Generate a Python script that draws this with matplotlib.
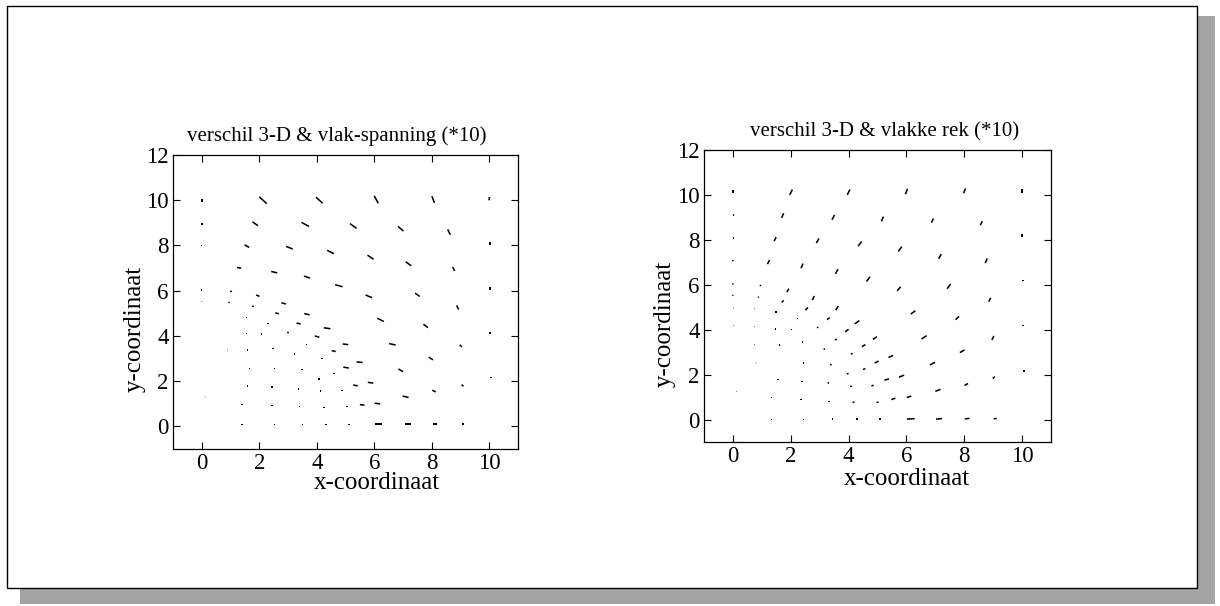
import matplotlib
matplotlib.use("Agg")
import matplotlib.pyplot as plt
from matplotlib.patches import Rectangle

# difference vectors (*10), left: 3-D vs plane stress
xs_l = [0.00, 2.13, 4.09, 6.07, 8.05, 10.00, 0.00, 1.86, 3.60, 5.27, 6.92, 8.60,
        0.00, 1.57, 3.05, 4.48, 5.87, 7.19, 8.76, 10.02, 1.30, 2.52, 3.66, 4.77,
        5.81, 7.50, 8.90, 10.02, 0.00, 0.00, 1.02, 0.95, 1.95, 1.78, 2.85, 2.62,
        3.66, 3.37, 4.36, 6.22, 7.79, 9.01, 10.02, 1.55, 2.30, 1.55, 2.09, 3.00,
        4.01, 3.64, 5.00, 4.59, 6.63, 7.97, 0.89, 1.60, 2.48, 3.22, 4.19, 1.66,
        2.53, 3.49, 4.59, 5.02, 5.49, 6.92, 4.07, 5.35, 5.87, 9.07, 10.06, 1.58,
        2.45, 3.37, 4.13, 4.88, 7.09, 8.08, 0.12, 1.40, 2.45, 3.40, 4.24, 5.06,
        5.58, 6.11, 1.40, 2.53, 3.51, 4.33, 5.12, 6.16, 7.18, 8.12, 9.09]
ys_l = [10.00, 10.00, 10.00, 10.03, 10.03, 10.07, 8.96, 8.96, 8.93, 8.86, 8.74, 8.59,
        8.00, 7.97, 7.90, 7.71, 7.48, 7.19, 6.96, 8.08, 7.01, 6.82, 6.60, 6.22,
        5.75, 5.82, 5.26, 6.10, 6.03, 5.53, 5.97, 5.48, 5.78, 5.31, 5.44, 5.00,
        4.96, 4.55, 4.34, 4.71, 4.44, 3.56, 4.12, 4.82, 4.55, 4.11, 4.08, 4.15,
        3.97, 3.63, 3.63, 3.33, 3.63, 3.00, 3.38, 3.38, 3.45, 3.19, 3.00, 2.56,
        2.56, 2.52, 2.33, 2.60, 2.84, 2.48, 2.10, 1.81, 1.93, 1.81, 2.15, 1.78,
        1.75, 1.66, 1.56, 1.59, 1.31, 1.56, 1.31, 0.96, 0.92, 0.87, 0.83, 0.87,
        0.95, 1.01, 0.08, 0.08, 0.08, 0.08, 0.08, 0.10, 0.10, 0.10, 0.10]
us_l = [0.00, 0.26, 0.23, 0.14, 0.09, 0.01, 0.00, 0.19, 0.26, 0.23, 0.19, 0.09,
        0.04, 0.16, 0.23, 0.23, 0.21, 0.19, 0.07, 0.00, 0.14, 0.21, 0.21, 0.26,
        0.23, 0.16, 0.07, 0.00, 0.04, 0.03, 0.05, 0.04, 0.12, 0.06, 0.16, 0.12,
        0.19, 0.14, 0.23, 0.23, 0.16, 0.07, 0.00, 0.04, 0.05, 0.04, 0.04, 0.06,
        0.16, 0.06, 0.19, 0.14, 0.23, 0.14, 0.03, 0.04, 0.05, 0.05, 0.06, 0.04,
        0.05, 0.05, 0.08, 0.19, 0.21, 0.16, 0.06, 0.16, 0.19, 0.07, 0.00, 0.04,
        0.05, 0.05, 0.06, 0.09, 0.21, 0.12, 0.03, 0.04, 0.05, 0.05, 0.06, 0.08,
        0.16, 0.19, 0.04, 0.05, 0.05, 0.06, 0.09, 0.25, 0.23, 0.14, 0.07]
vs_l = [0.12, -0.30, -0.27, -0.33, -0.30, 0.15, 0.08, -0.18, -0.18, -0.21, -0.21, -0.24,
        0.00, -0.12, -0.12, -0.15, -0.18, -0.18, -0.18, 0.12, -0.03, -0.06, -0.09, -0.09,
        -0.12, -0.15, -0.18, 0.10, 0.00, 0.00, -0.05, -0.02, -0.06, -0.02, -0.06, -0.04,
        -0.06, -0.04, -0.04, -0.15, -0.15, -0.09, 0.08, 0.00, 0.00, 0.00, 0.00, -0.02,
        -0.06, 0.00, -0.03, -0.04, -0.06, -0.12, 0.00, 0.00, 0.00, 0.00, 0.00, 0.00,
        0.00, 0.00, 0.00, -0.04, -0.03, -0.12, 0.00, -0.04, -0.04, -0.07, 0.06, 0.00,
        0.00, 0.00, 0.00, 0.00, -0.06, -0.08, 0.00, 0.00, 0.00, 0.00, 0.00, 0.00,
        -0.02, -0.03, 0.00, 0.00, 0.00, 0.00, 0.00, 0.00, 0.00, 0.00, 0.00]

# right: 3-D vs plane strain
xs_r = [0.00, 2.01, 4.00, 6.00, 8.01, 10.00, 0.02, 1.72, 3.47, 5.17, 6.90, 8.59,
        0.02, 1.46, 2.93, 4.39, 5.78, 7.16, 8.76, 10.00, 0.00, 1.23, 2.39, 3.59,
        4.68, 5.74, 7.47, 8.88, 10.03, 0.00, 0.00, 0.02, 0.03, 0.95, 0.88, 0.75,
        0.75, 0.75, 0.80, 0.12, 1.90, 1.72, 2.78, 2.55, 3.60, 3.30, 4.29, 6.23,
        7.76, 8.99, 10.03, 1.49, 2.24, 1.46, 2.04, 2.93, 3.94, 3.56, 4.91, 4.52,
        6.61, 7.93, 1.60, 2.41, 3.16, 4.11, 2.45, 3.39, 4.54, 4.97, 5.46, 6.90,
        3.97, 5.32, 5.83, 9.02, 10.05, 1.56, 2.39, 3.30, 4.08, 4.83, 7.09, 8.07,
        1.32, 2.36, 3.33, 4.17, 5.00, 5.55, 6.09, 1.34, 2.44, 3.45, 4.29, 5.08,
        6.15, 7.13, 8.10, 9.07]
ys_r = [10.15, 10.12, 10.12, 10.15, 10.18, 10.18, 9.11, 9.08, 9.00, 8.93, 8.86, 8.74,
        8.07, 8.03, 7.96, 7.82, 7.59, 7.26, 7.07, 8.18, 7.07, 7.01, 6.84, 6.59,
        6.25, 5.82, 5.93, 5.33, 6.19, 6.04, 5.53, 4.96, 4.18, 5.97, 5.45, 4.93,
        4.15, 3.33, 2.52, 1.26, 5.75, 5.26, 5.41, 4.93, 4.96, 4.49, 4.33, 4.77,
        4.52, 3.63, 4.18, 4.79, 4.49, 4.04, 4.00, 4.10, 3.96, 3.56, 3.63, 3.29,
        3.66, 3.04, 3.33, 3.44, 3.14, 2.93, 2.52, 2.44, 2.25, 2.56, 2.81, 2.49,
        2.04, 1.78, 1.93, 1.87, 2.15, 1.78, 1.70, 1.63, 1.48, 1.51, 1.30, 1.56,
        0.99, 0.89, 0.81, 0.77, 0.77, 0.92, 1.01, 0.00, 0.00, 0.02, 0.02, 0.03,
        0.03, 0.03, 0.04, 0.04]
us_r = [0.00, 0.09, 0.09, 0.07, 0.07, 0.00, 0.00, 0.07, 0.09, 0.07, 0.07, 0.07,
        0.00, 0.07, 0.09, 0.12, 0.12, 0.09, 0.07, 0.00, 0.03, 0.07, 0.07, 0.09,
        0.12, 0.12, 0.12, 0.07, 0.00, 0.03, 0.03, 0.03, 0.03, 0.03, 0.03, 0.03,
        0.03, 0.03, 0.03, 0.03, 0.07, 0.07, 0.07, 0.09, 0.09, 0.09, 0.16, 0.16,
        0.12, 0.07, 0.00, 0.04, 0.04, 0.04, 0.04, 0.05, 0.12, 0.06, 0.14, 0.12,
        0.18, 0.16, 0.04, 0.04, 0.05, 0.06, 0.05, 0.05, 0.08, 0.14, 0.16, 0.18,
        0.06, 0.16, 0.18, 0.07, 0.07, 0.04, 0.05, 0.05, 0.06, 0.08, 0.18, 0.12,
        0.04, 0.05, 0.05, 0.06, 0.07, 0.14, 0.16, 0.04, 0.05, 0.05, 0.06, 0.08,
        0.27, 0.21, 0.16, 0.10]
vs_r = [0.15, 0.24, 0.24, 0.24, 0.21, 0.18, 0.08, 0.21, 0.21, 0.21, 0.18, 0.18,
        0.08, 0.18, 0.21, 0.21, 0.21, 0.21, 0.21, 0.12, 0.05, 0.18, 0.21, 0.21,
        0.21, 0.18, 0.21, 0.18, 0.06, 0.04, 0.03, 0.00, 0.00, 0.04, 0.03, 0.00,
        0.00, 0.00, 0.00, 0.00, 0.15, 0.09, 0.18, 0.12, 0.18, 0.09, 0.15, 0.15,
        0.15, 0.18, 0.05, 0.00, 0.00, 0.00, 0.00, 0.02, 0.12, 0.04, 0.12, 0.09,
        0.15, 0.12, 0.00, 0.00, 0.02, 0.03, 0.00, 0.02, 0.04, 0.09, 0.09, 0.12,
        0.02, 0.06, 0.09, 0.09, 0.00, 0.00, 0.00, 0.02, 0.02, 0.03, 0.09, 0.09,
        0.00, 0.00, 0.00, 0.02, 0.02, 0.06, 0.06, 0.00, 0.00, 0.00, 0.00, 0.00,
        0.02, 0.03, 0.03, 0.02]

titles = ["verschil 3-D & vlak-spanning (*10)", "verschil 3-D & vlakke rek (*10)"]
xticks = [0, 2, 4, 6, 8, 10]
yticks = [0, 2, 4, 6, 8, 10, 12]

plt.rcParams['font.family'] = ['Liberation Serif', 'DejaVu Serif']

W, H = 1220, 606
fig = plt.figure(figsize=(W / 100, H / 100), dpi=100)
fig.patch.set_facecolor('white')

# page frame with drop shadow (kept behind the axes)
fig.patches.append(Rectangle((20 / W, 1 - 604 / H), 1195 / W, 588 / H,
                             transform=fig.transFigure, facecolor='#a4a4a4',
                             edgecolor='none', zorder=-3))
fig.patches.append(Rectangle((7 / W, 1 - 588 / H), 1190 / W, 582 / H,
                             transform=fig.transFigure, facecolor='white',
                             edgecolor='black', linewidth=1.0, zorder=-2))


def px_axes(x0, y0, x1, y1):
    return [x0 / W, 1 - y1 / H, (x1 - x0) / W, (y1 - y0) / H]


panels = [
    # axes rect, title x, xlabel pos, ylabel pos (axes coords)
    (px_axes(173, 155, 518, 449), 0.475, (0.59, -0.117), (-0.11, 0.41),
     xs_l, ys_l, us_l, vs_l),
    (px_axes(704, 150, 1051, 442), 0.52, (0.585, -0.126), (-0.112, 0.405),
     xs_r, ys_r, us_r, vs_r),
]

for i, (rect, tx, xlp, ylp, xs, ys, us, vs) in enumerate(panels):
    ax = fig.add_axes(rect)
    ax.quiver(xs, ys, us, vs, angles='xy', scale_units='xy', scale=1,
              pivot='middle', color='black', width=0.0045,
              headwidth=0, headlength=0, headaxislength=0, minlength=0.6)
    ax.set_xlim(-1, 11)
    ax.set_ylim(-1, 12)
    ax.set_xticks(xticks)
    ax.set_yticks(yticks)
    ax.tick_params(direction='in', length=5, width=0.8, top=True, right=True,
                   labelsize=16.5, pad=3)
    for s in ax.spines.values():
        s.set_linewidth(0.9)
    ax.set_title(titles[i], fontsize=15, x=tx, pad=10)
    ax.set_xlabel("x-coordinaat", fontsize=18, va='center')
    ax.xaxis.set_label_coords(*xlp)
    ax.set_ylabel("y-coordinaat", fontsize=18, va='center')
    ax.yaxis.set_label_coords(*ylp)

fig.savefig("out.png", dpi=100, facecolor='white')
